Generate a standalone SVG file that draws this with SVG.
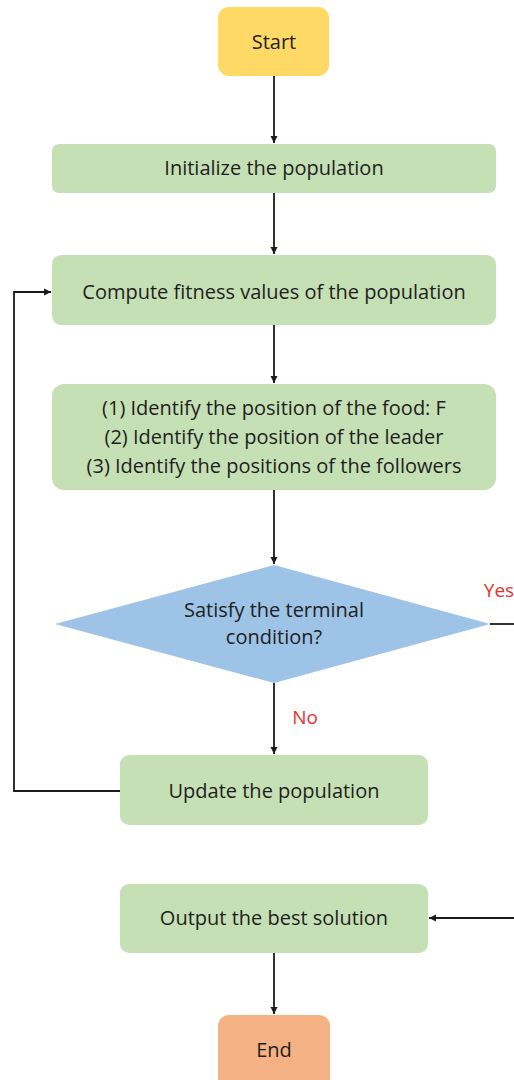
<svg xmlns="http://www.w3.org/2000/svg" width="514" height="1080" viewBox="0 0 514 1080">
<defs>
<marker id="arr" markerWidth="8" markerHeight="8" refX="7" refY="4" orient="auto" markerUnits="userSpaceOnUse">
<path d="M0,0.5 L7,4 L0,7.5 Z" fill="#1a1a1a"/>
</marker>
<style>
text{font-family:"Open Sans","Noto Sans","DejaVu Sans",sans-serif;font-size:20px;fill:#1e1e1e;text-anchor:middle}
.lbl{fill:#e8322d;font-size:19px}
.g{fill:#c5e0b4}
.c{fill:none;stroke:#1a1a1a;stroke-width:1.8}
</style>
</defs>
<rect width="514" height="1080" fill="#ffffff"/>
<g id="connectors">
<line class="c" x1="274" y1="76" x2="274" y2="143" marker-end="url(#arr)"/>
<line class="c" x1="274" y1="193" x2="274" y2="254" marker-end="url(#arr)"/>
<line class="c" x1="274" y1="325" x2="274" y2="383" marker-end="url(#arr)"/>
<line class="c" x1="274" y1="490" x2="274" y2="564" marker-end="url(#arr)"/>
<line class="c" x1="274" y1="683" x2="274" y2="754" marker-end="url(#arr)"/>
<polyline class="c" points="120,791 14,791 14,292 51,292" marker-end="url(#arr)"/>
<line class="c" x1="490" y1="624" x2="514" y2="624"/>
<line class="c" x1="514" y1="918" x2="429" y2="918" marker-end="url(#arr)"/>
<line class="c" x1="274" y1="953" x2="274" y2="1014" marker-end="url(#arr)"/>
<text class="lbl" x="499" y="597">Yes</text>
<text class="lbl" x="305" y="724">No</text>
</g>
<g id="start">
<rect x="218" y="7" width="111" height="69" rx="11" fill="#ffd966"/>
<text x="274" y="49">Start</text>
</g>
<g id="init">
<rect class="g" x="52" y="144" width="444" height="49" rx="7"/>
<text x="274" y="175">Initialize the population</text>
</g>
<g id="compute">
<rect class="g" x="52" y="255" width="444" height="70" rx="9"/>
<text x="274" y="299">Compute fitness values of the population</text>
</g>
<g id="identify">
<rect class="g" x="52" y="384" width="444" height="106" rx="12"/>
<text x="274" y="415">(1) Identify the position of the food: F</text>
<text x="274" y="444">(2) Identify the position of the leader</text>
<text x="274" y="473">(3) Identify the positions of the followers</text>
</g>
<g id="decision">
<polygon points="274,565 490,624 274,683 55,624" fill="#9dc3e6"/>
<text x="274" y="617">Satisfy the terminal</text>
<text x="274" y="644">condition?</text>
</g>
<g id="update">
<rect class="g" x="120" y="755" width="308" height="70" rx="9"/>
<text x="274" y="798">Update the population</text>
</g>
<g id="output">
<rect class="g" x="120" y="884" width="308" height="69" rx="9"/>
<text x="274" y="925">Output the best solution</text>
</g>
<g id="end">
<rect x="218" y="1015" width="112" height="75" rx="11" fill="#f4b183"/>
<text x="274" y="1057">End</text>
</g>
</svg>
